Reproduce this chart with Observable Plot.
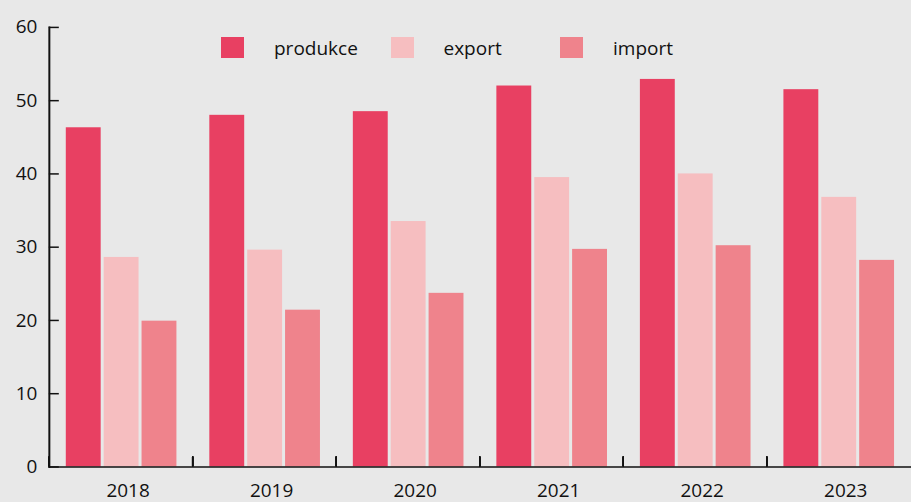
<!DOCTYPE html>
<html>
<head>
<meta charset="utf-8">
<script src="https://cdn.jsdelivr.net/npm/d3@7"></script>
<script src="https://cdn.jsdelivr.net/npm/@observablehq/plot@0.6"></script>
<style>
  html, body { margin: 0; padding: 0; overflow: hidden; background: #e8e8e8; }
  #wrap { position: relative; width: 911px; height: 502px; overflow: hidden; }
  #legend { position: absolute; top: 37px; left: 221px; display: flex; font-family: "Open Sans", sans-serif; font-size: 19px; color: #111; }
  .item { width: 169.5px; display: flex; align-items: center; height: 21px; }
  .sw { width: 23px; height: 21px; margin-right: 30px; flex: none; }
</style>
</head>
<body>
<div id="wrap"><div id="legend"></div></div>
<script>
const years = ["2018", "2019", "2020", "2021", "2022", "2023"];
const series = ["produkce", "export", "import"];
const produkce = [46.3, 48.0, 48.5, 52.0, 52.9, 51.5];
const exportVals = [28.6, 29.6, 33.5, 39.5, 40.0, 36.8];
const importVals = [19.9, 21.4, 23.7, 29.7, 30.2, 28.2];
const colors = ["#e84062", "#f6bec0", "#ef838c"];
const yTicks = [0, 10, 20, 30, 40, 50, 60];

const valuesBySeries = [produkce, exportVals, importVals];
const data = years.flatMap((y, i) => series.map((s, j) => ({year: y, series: s, value: valuesBySeries[j][i]})));

const W = 914, mL = 48, mR = 0;
const bw = (W - mL - mR) / years.length;

const chart = Plot.plot({
  width: W,
  height: 502,
  marginTop: 27,
  marginBottom: 34,
  marginLeft: mL,
  marginRight: mR,
  style: {background: "transparent", fontFamily: "'Open Sans', sans-serif", fontSize: "19px", color: "#111", overflow: "visible"},
  fx: {domain: years, padding: 0, label: null},
  x: {domain: series, paddingInner: 0.09, paddingOuter: 0.42, axis: null},
  y: {domain: [0, 60], label: null},
  color: {domain: series, range: colors},
  marks: [
    Plot.barY(data, {fx: "year", x: "series", y: "value", fill: "series"}),
    Plot.axisY(yTicks, {tickSize: -10, tickPadding: 22, strokeWidth: 1.5, stroke: "#111", label: null}),
    Plot.axisFx({anchor: "bottom", tickSize: 0, tickPadding: 17, dx: 7, label: null}),
    Plot.axisFx(years.slice(1), {anchor: "bottom", tickSize: -10, text: null, dx: -bw / 2, strokeWidth: 1.5, stroke: "#111", label: null}),
    Plot.frame({anchor: "left", facet: "super", stroke: "#111", strokeWidth: 2}),
    Plot.frame({anchor: "bottom", facet: "super", stroke: "#111", strokeWidth: 1.5})
  ]
});
const wrap = document.getElementById("wrap");
wrap.insertBefore(chart, wrap.firstChild);

const legend = document.getElementById("legend");
series.forEach((s, i) => {
  const item = document.createElement("div");
  item.className = "item";
  const sw = document.createElement("span");
  sw.className = "sw";
  sw.style.background = colors[i];
  const t = document.createElement("span");
  t.textContent = s;
  item.appendChild(sw);
  item.appendChild(t);
  legend.appendChild(item);
});
</script>
</body>
</html>
